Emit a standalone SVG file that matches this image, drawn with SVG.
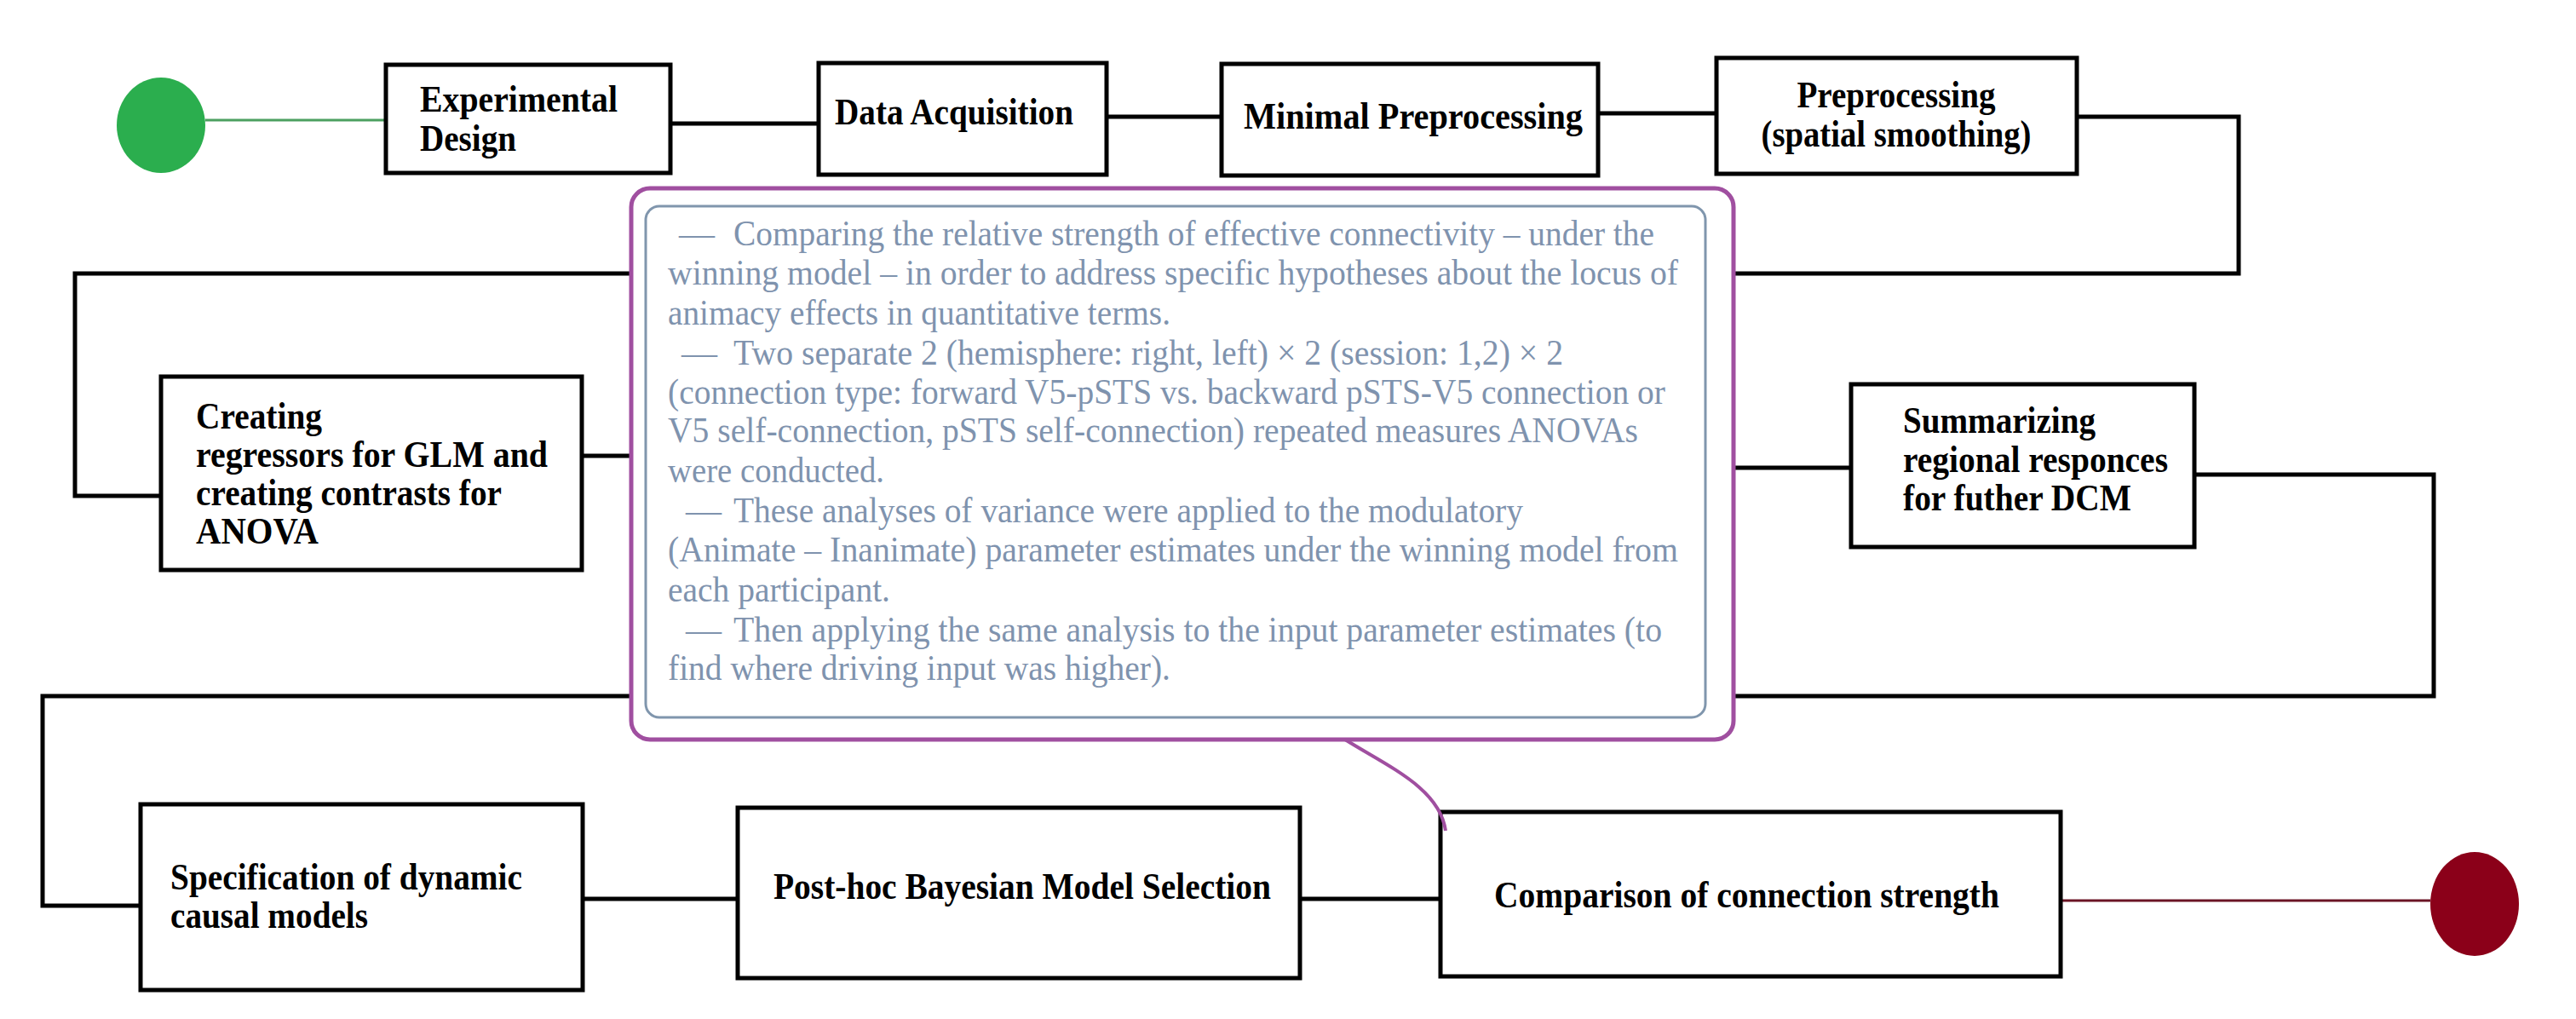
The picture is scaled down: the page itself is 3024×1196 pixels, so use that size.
<svg xmlns="http://www.w3.org/2000/svg" width="3024" height="1196" viewBox="0 0 3024 1196">
<style>
.box{fill:#fff;stroke:#000;stroke-width:5}
.lbl{font-family:"Liberation Serif","Times New Roman",serif;font-weight:bold;font-size:45px;fill:#000}
.note{font-family:"Liberation Serif","Times New Roman",serif;font-size:42px;fill:#7f93ae}
.conn{fill:none;stroke:#000;stroke-width:5}
</style>
<rect width="3024" height="1196" fill="#fff"/>
<g id="connectors">
<line x1="241" y1="141" x2="453" y2="141" stroke="#4ca060" stroke-width="3"/>
<line class="conn" x1="787" y1="145" x2="961" y2="145"/>
<line class="conn" x1="1299" y1="137" x2="1434" y2="137"/>
<line class="conn" x1="1876" y1="133" x2="2015" y2="133"/>
<path class="conn" d="M2438,137 H2628 V321 H88 V582 H189"/>
<path class="conn" d="M683,535 H1400 V549 H2173"/>
<path class="conn" d="M2576,557 H2857 V817 H50 V1063 H165"/>
<line class="conn" x1="684" y1="1055" x2="866" y2="1055"/>
<line class="conn" x1="1526" y1="1055" x2="1691" y2="1055"/>
<line x1="2419" y1="1057" x2="2853" y2="1057" stroke="#6b1525" stroke-width="3"/>
</g>
<g id="start"><ellipse cx="189" cy="147" rx="52" ry="56" fill="#2bae4e"/></g>
<g id="end"><ellipse cx="2905" cy="1061" rx="52" ry="61" fill="#8b0019"/></g>
<g id="n1"><rect class="box" x="453" y="76" width="334" height="127"/>
<text class="lbl" x="493" y="131" textLength="232" lengthAdjust="spacingAndGlyphs">Experimental</text>
<text class="lbl" x="493" y="177" textLength="113" lengthAdjust="spacingAndGlyphs">Design</text></g>
<g id="n2"><rect class="box" x="961" y="74" width="338" height="131"/>
<text class="lbl" x="980" y="146" textLength="280" lengthAdjust="spacingAndGlyphs">Data Acquisition</text></g>
<g id="n3"><rect class="box" x="1434" y="75" width="442" height="131"/>
<text class="lbl" x="1460" y="151" textLength="398" lengthAdjust="spacingAndGlyphs">Minimal Preprocessing</text></g>
<g id="n4"><rect class="box" x="2015" y="68" width="423" height="136"/>
<text class="lbl" x="2226" y="126" text-anchor="middle" textLength="233" lengthAdjust="spacingAndGlyphs">Preprocessing</text>
<text class="lbl" x="2226" y="172" text-anchor="middle" textLength="317" lengthAdjust="spacingAndGlyphs">(spatial smoothing)</text></g>
<g id="n5"><rect class="box" x="189" y="442" width="494" height="227"/>
<text class="lbl" x="230" y="503" textLength="148" lengthAdjust="spacingAndGlyphs">Creating</text>
<text class="lbl" x="230" y="548" textLength="413" lengthAdjust="spacingAndGlyphs">regressors for GLM and</text>
<text class="lbl" x="230" y="593" textLength="359" lengthAdjust="spacingAndGlyphs">creating contrasts for</text>
<text class="lbl" x="230" y="638" textLength="144" lengthAdjust="spacingAndGlyphs">ANOVA</text></g>
<g id="n6"><rect class="box" x="2173" y="451" width="403" height="191"/>
<text class="lbl" x="2234" y="508" textLength="226" lengthAdjust="spacingAndGlyphs">Summarizing</text>
<text class="lbl" x="2234" y="554" textLength="311" lengthAdjust="spacingAndGlyphs">regional responces</text>
<text class="lbl" x="2234" y="599" textLength="268" lengthAdjust="spacingAndGlyphs">for futher DCM</text></g>
<g id="n7"><rect class="box" x="165" y="944" width="519" height="218"/>
<text class="lbl" x="200" y="1044" textLength="413" lengthAdjust="spacingAndGlyphs">Specification of dynamic</text>
<text class="lbl" x="200" y="1089" textLength="232" lengthAdjust="spacingAndGlyphs">causal models</text></g>
<g id="n8"><rect class="box" x="866" y="948" width="660" height="200"/>
<text class="lbl" x="908" y="1055" textLength="584" lengthAdjust="spacingAndGlyphs">Post-hoc Bayesian Model Selection</text></g>
<g id="n9"><rect class="box" x="1691" y="953" width="728" height="193"/>
<text class="lbl" x="1754" y="1065" textLength="593" lengthAdjust="spacingAndGlyphs">Comparison of connection strength</text></g>
<g id="callout">
<path d="M1579,868 C1630,900 1690,925 1697,975" fill="none" stroke="#a04fa0" stroke-width="4"/>
<rect x="741" y="221" width="1294" height="647" rx="22" fill="#fff" stroke="#a04fa0" stroke-width="5"/>
<rect x="758" y="242" width="1244" height="600" rx="16" fill="#fff" stroke="#8096ad" stroke-width="3"/>
<text class="note" x="797" y="288">—</text>
<text class="note" x="861" y="288" textLength="1081" lengthAdjust="spacingAndGlyphs">Comparing the relative strength of effective connectivity – under the</text>
<text class="note" x="784" y="334" textLength="1186" lengthAdjust="spacingAndGlyphs">winning model – in order to address specific hypotheses about the locus of</text>
<text class="note" x="784" y="381" textLength="590" lengthAdjust="spacingAndGlyphs">animacy effects in quantitative terms.</text>
<text class="note" x="800" y="428">—</text>
<text class="note" x="861" y="428" textLength="974" lengthAdjust="spacingAndGlyphs">Two separate 2 (hemisphere: right, left) × 2 (session: 1,2) × 2</text>
<text class="note" x="784" y="474" textLength="1171" lengthAdjust="spacingAndGlyphs">(connection type: forward V5-pSTS vs. backward pSTS-V5 connection or</text>
<text class="note" x="784" y="519" textLength="1139" lengthAdjust="spacingAndGlyphs">V5 self-connection, pSTS self-connection) repeated measures ANOVAs</text>
<text class="note" x="784" y="566" textLength="254" lengthAdjust="spacingAndGlyphs">were conducted.</text>
<text class="note" x="805" y="613">—</text>
<text class="note" x="861" y="613" textLength="927" lengthAdjust="spacingAndGlyphs">These analyses of variance were applied to the modulatory</text>
<text class="note" x="784" y="659" textLength="1186" lengthAdjust="spacingAndGlyphs">(Animate – Inanimate) parameter estimates under the winning model from</text>
<text class="note" x="784" y="706" textLength="261" lengthAdjust="spacingAndGlyphs">each participant.</text>
<text class="note" x="805" y="753">—</text>
<text class="note" x="861" y="753" textLength="1090" lengthAdjust="spacingAndGlyphs">Then applying the same analysis to the input parameter estimates (to</text>
<text class="note" x="784" y="798" textLength="590" lengthAdjust="spacingAndGlyphs">find where driving input was higher).</text>
</g>
</svg>
